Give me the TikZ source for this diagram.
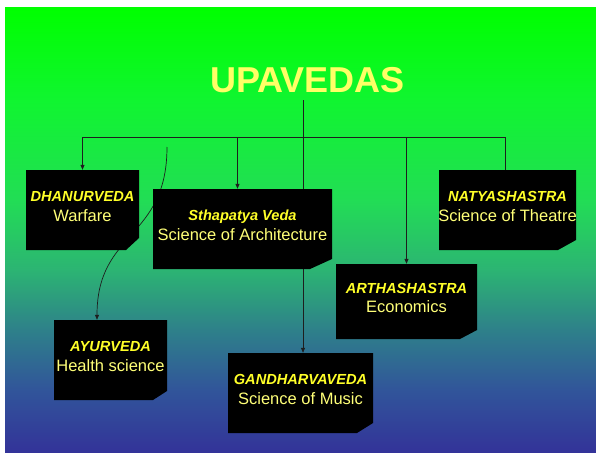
\documentclass[tikz,border=0pt]{standalone}
\usepackage{fontspec}
\setmainfont{Liberation Sans}
\usetikzlibrary{arrows.meta}
\definecolor{c1}{RGB}{0,255,0}
\definecolor{c2}{RGB}{16,245,48}
\definecolor{c3}{RGB}{34,221,85}
\definecolor{c4}{RGB}{44,180,115}
\definecolor{c5}{RGB}{46,128,138}
\definecolor{c6}{RGB}{49,85,154}
\definecolor{c7}{RGB}{51,51,153}
\definecolor{titleyel}{RGB}{255,255,102}
\definecolor{headyel}{RGB}{255,255,40}
\definecolor{subyel}{RGB}{255,255,120}
\definecolor{linec}{RGB}{30,30,30}
\pgfdeclareverticalshading{bgshade}{100bp}{color(0bp)=(c7); color(25bp)=(c7); color(32bp)=(c6); color(38.7bp)=(c5); color(45.5bp)=(c4); color(53.4bp)=(c3); color(64.6bp)=(c2); color(75bp)=(c1); color(100bp)=(c1)}
\pgfdeclarelayer{bglayer}
\pgfdeclarelayer{connlayer}
\pgfsetlayers{bglayer,connlayer,main}
\tikzset{
  cbox/.style n args={4}{minimum width=#1pt, minimum height=#2pt, inner sep=0pt,
    path picture={\fill[black] (path picture bounding box.north west) -- (path picture bounding box.north east) -- ([yshift=#4pt]path picture bounding box.south east) -- ([xshift=-#3pt]path picture bounding box.south east) -- (path picture bounding box.south west) -- cycle;}},
  lbl/.style={align=center, text=subyel, inner sep=0pt, yshift=3.5pt, font=\fontsize{16.5}{19.5}\selectfont},
  conn/.style={draw=linec, line width=0.7pt},
  arr/.style={conn, -{Triangle[length=5pt,width=4pt]}},
  ttl/.style={text=titleyel, font=\fontsize{36}{40}\selectfont\bfseries, inner sep=0pt}
}
\newcommand{\hd}[1]{{\color{headyel}\fontsize{14.6}{19.5}\selectfont\bfseries\itshape #1}}
\begin{document}
\begin{tikzpicture}[x=1pt,y=-1pt]
\useasboundingbox (0,0) rectangle (596,452);
\begin{pgfonlayer}{bglayer}
\fill[white] (0,0) rectangle (596,452);
\shade[shading=bgshade] (5,8) rectangle (596,452);
\end{pgfonlayer}

\node[ttl] (title) at (307.5,80) {UPAVEDAS};

\path
  (82.5,210) node[cbox={113}{80}{13}{12}] (dhan) {}
  (242.5,229) node[cbox={179}{80}{22}{10}] (sth) {}
  (507.5,210) node[cbox={137}{80}{18}{10}] (natya) {}
  (406.5,301.5) node[cbox={141}{75}{17}{9}] (artha) {}
  (110.5,360) node[cbox={113}{80}{14}{9}] (ayur) {}
  (300.5,393) node[cbox={145}{80}{16}{10}] (gand) {};

\node[lbl] (dhanT) at (dhan.center) {\hd{DHANURVEDA}\\Warfare};
\node[lbl] (sthT) at (sth.center) {\hd{Sthapatya Veda}\\Science of Architecture};
\node[lbl] (natyaT) at (natya.center) {\hd{NATYASHASTRA}\\Science of Theatre};
\node[lbl] (arthaT) at (artha.center) {\hd{ARTHASHASTRA}\\Economics};
\node[lbl] (ayurT) at (ayur.center) {\hd{AYURVEDA}\\Health science};
\node[lbl] (gandT) at (gand.center) {\hd{GANDHARVAVEDA}\\Science of Music};

\coordinate (top) at (303,100);
\coordinate (bus) at (303,137);
\coordinate (cstart) at (167,147);
\begin{pgfonlayer}{connlayer}
\draw[arr] (top) -- (top |- gand.north);
\draw[arr] (bus) -| (dhan.north);
\draw[arr] (bus) -| ([xshift=-5pt]sth.north);
\draw[arr] (bus) -| (artha.north);
\draw[conn] (bus) -| ([xshift=-2.5pt]natya.north);
\draw[arr] (cstart) .. controls (167,240) and (97,230) .. ([xshift=-13.5pt]ayur.north);
\end{pgfonlayer}
\end{tikzpicture}
\end{document}
